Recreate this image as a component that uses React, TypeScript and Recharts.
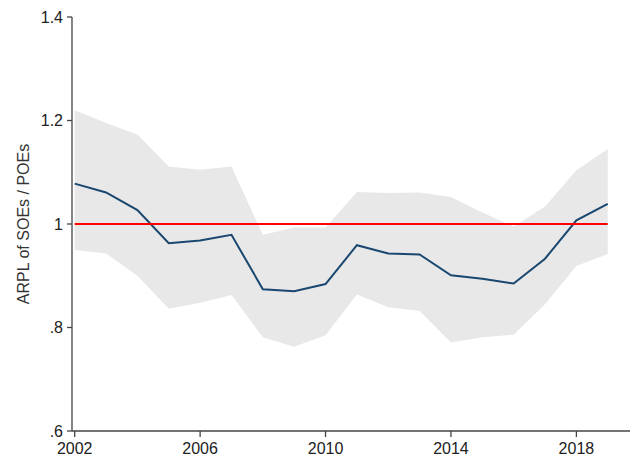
import { ComposedChart, Area, Line, XAxis, YAxis, ReferenceLine, Label } from 'recharts';

// Ratio of ARPL (SOEs / POEs) with confidence band, by year
const years = [2002, 2003, 2004, 2005, 2006, 2007, 2008, 2009, 2010, 2011, 2012, 2013, 2014, 2015, 2016, 2017, 2018, 2019];
const ratio = [1.078, 1.061, 1.027, 0.963, 0.968, 0.979, 0.874, 0.870, 0.884, 0.959, 0.943, 0.941, 0.901, 0.894, 0.885, 0.933, 1.007, 1.039];
const lower = [0.950, 0.943, 0.900, 0.836, 0.848, 0.863, 0.781, 0.763, 0.785, 0.864, 0.839, 0.832, 0.771, 0.781, 0.786, 0.845, 0.919, 0.942];
const upper = [1.220, 1.195, 1.173, 1.111, 1.105, 1.111, 0.979, 0.993, 0.993, 1.062, 1.060, 1.061, 1.052, 1.022, 0.995, 1.034, 1.104, 1.145];

const yTicks = [0.6, 0.8, 1, 1.2, 1.4];
const xTicks = [2002, 2006, 2010, 2014, 2018];
const yLabel = 'ARPL of SOEs / POEs';
const refValue = 1;

const data = years.map((year, i) => ({
  year,
  ratio: ratio[i],
  band: [lower[i], upper[i]],
}));

const fmtY = (v: number) => {
  const s = String(Math.round(v * 10) / 10);
  return s.startsWith('0.') ? s.slice(1) : s;
};

const font = '"Liberation Sans", Arial, sans-serif';

export default function App() {
  return (
    <div style={{ position: 'absolute', left: 0, top: 0, width: 630, height: 462, background: '#fff' }}>
      <ComposedChart width={630} height={462} data={data} margin={{ top: 17, right: 0, bottom: 0, left: 0 }}>
        <XAxis
          dataKey="year"
          type="number"
          domain={[2001.914, 2019.71]}
          ticks={xTicks}
          allowDataOverflow
          height={31}
          tickSize={6}
          tickMargin={6}
          stroke="#444"
          strokeWidth={1.3}
          tick={{ fill: '#222', fontSize: 16, fontFamily: font }}
        />
        <YAxis
          type="number"
          domain={[0.6, 1.4]}
          ticks={yTicks}
          width={72}
          tickSize={5}
          tickMargin={4}
          stroke="#444"
          strokeWidth={1.3}
          tickFormatter={fmtY}
          tick={{ fill: '#222', fontSize: 16, fontFamily: font }}
        >
          <Label
            content={() => (
              <text
                x={23}
                y={224}
                transform="rotate(-90 23 224)"
                textAnchor="middle"
                dominantBaseline="central"
                fill="#333"
                fontSize={16}
                fontFamily={font}
              >
                {yLabel}
              </text>
            )}
          />
        </YAxis>
        <Area
          dataKey="band"
          type="linear"
          stroke="none"
          fill="#e8e8e8"
          fillOpacity={1}
          isAnimationActive={false}
          activeDot={false}
        />
        <Line
          dataKey="ratio"
          type="linear"
          stroke="#1a476f"
          strokeWidth={2}
          dot={false}
          activeDot={false}
          isAnimationActive={false}
        />
        <ReferenceLine
          segment={[
            { x: years[0], y: refValue },
            { x: years[years.length - 1], y: refValue },
          ]}
          stroke="#ff0000"
          strokeWidth={2}
        />
      </ComposedChart>
    </div>
  );
}
